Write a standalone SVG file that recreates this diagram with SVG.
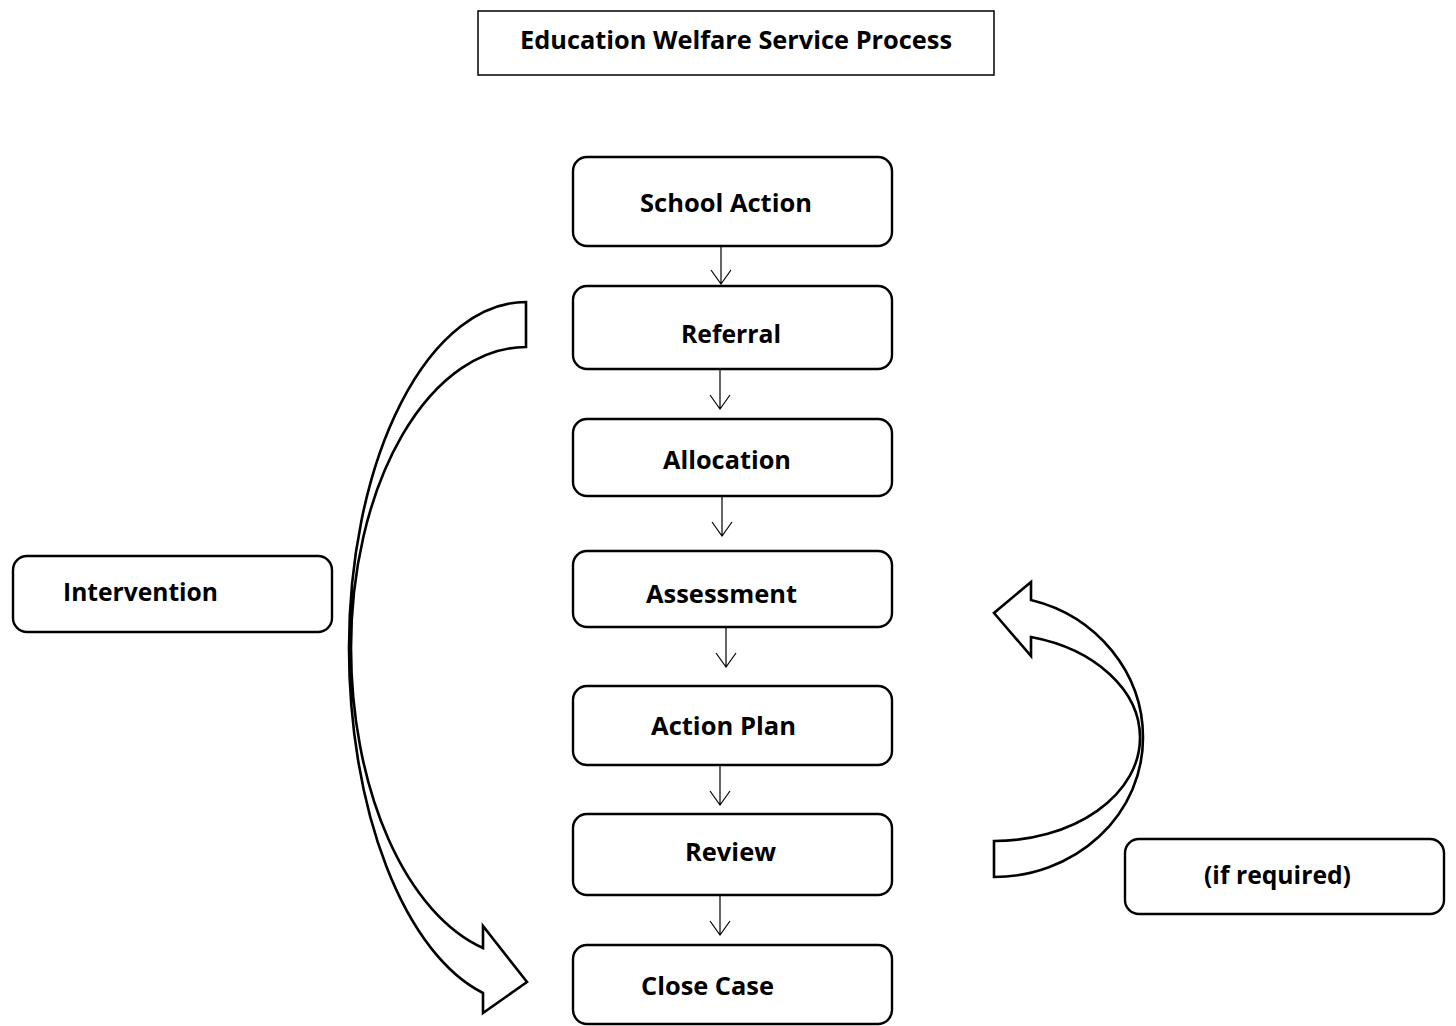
<svg xmlns="http://www.w3.org/2000/svg" width="1456" height="1026" viewBox="0 0 1456 1026">
<style>
.box{fill:#fff;stroke:#000;stroke-width:2.4}
.lbl{font-family:"Open Sans","Noto Sans","Liberation Sans",sans-serif;font-weight:700;font-size:25px;fill:#000}
.conn{fill:none;stroke:#000;stroke-width:1.2}
.big{fill:#fff;stroke:#000;stroke-width:2.6;stroke-linejoin:miter}
</style>
<rect width="1456" height="1026" fill="#fff"/>
<g id="title">
<rect x="478" y="11" width="516" height="64" fill="#fff" stroke="#000" stroke-width="1.5"/>
<text class="lbl" x="520" y="49" font-size="23" textLength="432" lengthAdjust="spacingAndGlyphs">Education Welfare Service Process</text>
</g>
<g id="curved-arrows">
<path class="big" d="M526,302 L526,347 A175,301 0 0,0 351,648 A175,310 0 0,0 483,948 L483,926 L527,982 L483,1013 L483,993 A177,356 0 0,1 349,648 A177,346 0 0,1 526,302 Z"/>
<path class="big" d="M994,877 L994,841 A146,103 0 0,0 1140,738 A146,104 0 0,0 1031,637 L1031,656 L994,613 L1031,582 L1031,600 A149,142 0 0,1 1143,738 A149,139 0 0,1 994,877 Z"/>
</g>
<g id="connectors">
<path class="conn" d="M721,246 V284 M711,270 L721,284 L731,270"/>
<path class="conn" d="M720,369 V409 M710,395 L720,409 L730,395"/>
<path class="conn" d="M722,496 V536 M712,522 L722,536 L732,522"/>
<path class="conn" d="M726,627 V667 M716,653 L726,667 L736,653"/>
<path class="conn" d="M720,765 V805 M710,791 L720,805 L730,791"/>
<path class="conn" d="M720,895 V935 M710,921 L720,935 L730,921"/>
</g>
<g id="school-action"><rect class="box" x="573" y="157" width="319" height="89" rx="14"/><text class="lbl" x="640" y="212" textLength="172" lengthAdjust="spacingAndGlyphs">School Action</text></g>
<g id="referral"><rect class="box" x="573" y="286" width="319" height="83" rx="14"/><text class="lbl" x="681" y="343" textLength="100" lengthAdjust="spacingAndGlyphs">Referral</text></g>
<g id="allocation"><rect class="box" x="573" y="419" width="319" height="77" rx="14"/><text class="lbl" x="663" y="469" textLength="128" lengthAdjust="spacingAndGlyphs">Allocation</text></g>
<g id="assessment"><rect class="box" x="573" y="551" width="319" height="76" rx="14"/><text class="lbl" x="646" y="603" textLength="151" lengthAdjust="spacingAndGlyphs">Assessment</text></g>
<g id="action-plan"><rect class="box" x="573" y="686" width="319" height="79" rx="14"/><text class="lbl" x="651" y="735" textLength="145" lengthAdjust="spacingAndGlyphs">Action Plan</text></g>
<g id="review"><rect class="box" x="573" y="814" width="319" height="81" rx="14"/><text class="lbl" x="685" y="861" textLength="91" lengthAdjust="spacingAndGlyphs">Review</text></g>
<g id="close-case"><rect class="box" x="573" y="945" width="319" height="79" rx="14"/><text class="lbl" x="641" y="995" textLength="133" lengthAdjust="spacingAndGlyphs">Close Case</text></g>
<g id="intervention"><rect class="box" x="13" y="556" width="319" height="76" rx="14"/><text class="lbl" x="63" y="601" textLength="155" lengthAdjust="spacingAndGlyphs">Intervention</text></g>
<g id="if-required"><rect class="box" x="1125" y="839" width="319" height="75" rx="14"/><text class="lbl" x="1204" y="884" textLength="147" lengthAdjust="spacingAndGlyphs">(if required)</text></g>
</svg>
